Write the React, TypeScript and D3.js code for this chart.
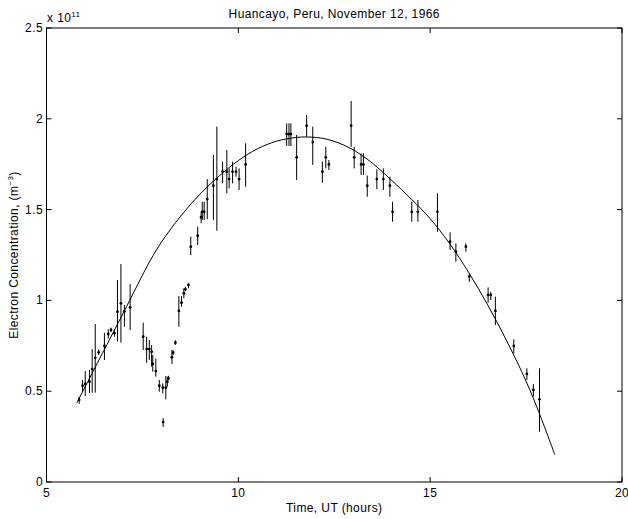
import React from "react";
import * as d3 from "d3";

// Measurements (electron concentration in units of 1e11 m^-3)
const times = [5.85,5.94,6.01,6.12,6.19,6.27,6.36,6.51,6.61,6.68,6.77,6.85,6.94,7.03,7.18,7.52,7.61,7.68,7.74,7.77,7.85,7.94,8.03,8.04,8.11,8.15,8.18,8.27,8.30,8.36,8.45,8.52,8.58,8.62,8.70,8.76,8.94,9.03,9.06,9.11,9.19,9.35,9.44,9.59,9.70,9.76,9.85,9.94,10.02,10.19,11.26,11.32,11.37,11.52,11.78,11.94,12.19,12.28,12.36,12.94,13.02,13.20,13.26,13.36,13.61,13.78,13.95,14.02,14.52,14.68,15.19,15.52,15.67,15.93,16.02,16.51,16.58,16.70,17.18,17.52,17.69,17.85];
const values = [0.452,0.530,0.540,0.552,0.622,0.684,0.714,0.749,0.815,0.837,0.819,0.938,0.984,0.940,0.962,0.800,0.732,0.732,0.717,0.650,0.611,0.530,0.519,0.330,0.519,0.552,0.571,0.687,0.712,0.767,0.942,0.987,1.039,1.061,1.085,1.296,1.356,1.458,1.488,1.488,1.558,1.632,1.668,1.709,1.709,1.668,1.709,1.709,1.668,1.749,1.916,1.916,1.916,1.788,1.962,1.872,1.709,1.788,1.749,1.962,1.788,1.749,1.749,1.632,1.668,1.668,1.632,1.488,1.488,1.488,1.488,1.323,1.268,1.296,1.131,1.030,1.030,0.942,0.749,0.595,0.507,0.455];
const lower = [0.43,0.497,0.474,0.490,0.492,0.492,0.70,0.672,0.791,0.825,0.800,0.773,0.767,0.855,0.837,0.727,0.657,0.672,0.635,0.607,0.580,0.497,0.488,0.303,0.455,0.525,0.56,0.650,0.70,0.755,0.855,0.965,1.012,1.05,1.067,1.250,1.305,1.425,1.443,1.443,1.447,1.443,1.384,1.645,1.590,1.617,1.645,1.681,1.608,1.626,1.850,1.850,1.850,1.663,1.901,1.746,1.648,1.727,1.718,1.846,1.727,1.691,1.691,1.571,1.612,1.608,1.571,1.433,1.433,1.433,1.378,1.278,1.213,1.268,1.103,0.987,1.002,0.865,0.709,0.562,0.470,0.277];
const upper = [0.47,0.562,0.611,0.617,0.732,0.870,0.73,0.822,0.841,0.85,0.841,1.112,1.200,0.975,1.090,0.877,0.800,0.782,0.754,0.699,0.681,0.562,0.543,0.352,0.584,0.580,0.585,0.727,0.725,0.78,1.024,1.024,1.067,1.075,1.097,1.351,1.406,1.488,1.543,1.543,1.668,1.801,1.957,1.764,1.828,1.727,1.764,1.736,1.727,1.865,1.975,1.975,1.975,1.911,2.021,1.957,1.764,1.846,1.773,2.098,1.846,1.810,1.810,1.687,1.722,1.727,1.681,1.543,1.543,1.553,1.590,1.375,1.314,1.314,1.149,1.072,1.048,1.020,0.786,0.626,0.540,0.626];

// Fitted model curve
const curveT = [5.79,6.5,7.0,7.7,8.0,8.5,9.0,9.5,10.0,10.5,11.0,11.5,11.8,12.3,12.9,13.5,14.0,14.5,15.0,15.5,16.0,16.5,17.0,17.5,17.86,18.25];
const curveV = [0.435,0.726,0.93,1.218,1.322,1.465,1.585,1.685,1.77,1.835,1.877,1.897,1.90,1.888,1.84,1.755,1.66,1.56,1.45,1.315,1.155,0.975,0.775,0.555,0.37,0.15];

const xTicks = [5, 10, 15, 20];
const yTicks = [0, 0.5, 1, 1.5, 2, 2.5];
const yTickLabels = ["0", "0.5", "1", "1.5", "2", "2.5"];

const W = 628, H = 519;
const L = 46.5, R = 622, T = 28, B = 482;
const FONT = "'Liberation Sans', Arial, Helvetica, sans-serif";
const FS = 12;
const LS = 0.4;

export default function App() {
  const x = d3.scaleLinear().domain([5, 20]).range([L, R]);
  const y = d3.scaleLinear().domain([0, 2.5]).range([B, T]);
  const line = d3
    .line<number>()
    .x((_, i) => x(curveT[i]))
    .y((d) => y(d))
    .curve(d3.curveCatmullRom.alpha(0.5));
  const tl = 5;
  const txt = { fontFamily: FONT, fontSize: FS, letterSpacing: LS } as const;
  return (
    <svg width={W} height={H} style={{ position: "absolute", left: 0, top: 0, background: "#fff" }}>
      <rect x={0} y={0} width={W} height={H} fill="#fff" />
      <path d={line(curveV) || ""} fill="none" stroke="#000" strokeWidth={1} />
      {times.map((t, i) => (
        <line key={"e" + i} x1={x(t)} x2={x(t)} y1={y(lower[i])} y2={y(upper[i])} stroke="#000" strokeWidth={1} />
      ))}
      {times.map((t, i) => (
        <circle key={"p" + i} cx={x(t)} cy={y(values[i])} r={1.4} fill="#000" />
      ))}
      <rect x={L} y={T} width={R - L} height={B - T} fill="none" stroke="#000" strokeWidth={1} />
      {xTicks.map((v) => (
        <g key={"xt" + v}>
          <line x1={x(v)} x2={x(v)} y1={B} y2={B - tl} stroke="#000" />
          <line x1={x(v)} x2={x(v)} y1={T} y2={T + tl} stroke="#000" />
          <text x={x(v)} y={497} textAnchor="middle" {...txt}>{v}</text>
        </g>
      ))}
      {yTicks.map((v, i) => (
        <g key={"yt" + v}>
          <line x1={L} x2={L + tl} y1={y(v)} y2={y(v)} stroke="#000" />
          <line x1={R} x2={R - tl} y1={y(v)} y2={y(v)} stroke="#000" />
          <text x={43} y={y(v) + 4} textAnchor="end" {...txt}>{yTickLabels[i]}</text>
        </g>
      ))}
      <text x={47} y={21.5} {...txt}>
        x 10<tspan dy={-5} fontSize={8}>11</tspan>
      </text>
      <text x={(L + R) / 2} y={18} textAnchor="middle" {...txt}>
        Huancayo, Peru, November 12, 1966
      </text>
      <text x={(L + R) / 2} y={512} textAnchor="middle" {...txt}>
        Time, UT (hours)
      </text>
      <text transform={`translate(18, ${(T + B) / 2}) rotate(-90)`} textAnchor="middle" {...txt}>
        Electron Concentration, (m<tspan dy={-5} fontSize={8}>−3</tspan><tspan dy={5}>)</tspan>
      </text>
    </svg>
  );
}
